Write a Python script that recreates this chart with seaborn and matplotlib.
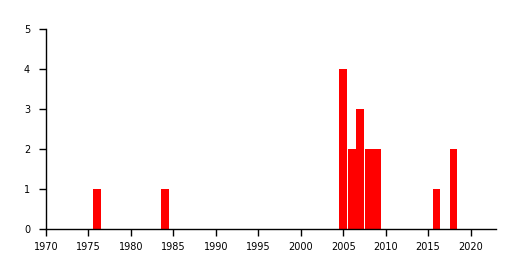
import matplotlib
matplotlib.use("Agg")
import matplotlib.pyplot as plt
import seaborn as sns
import pandas as pd

years = [1976, 1984, 2005, 2006, 2007, 2008, 2009, 2016, 2018]
counts = [1, 1, 4, 2, 3, 2, 2, 1, 2]
xticks = [1970, 1975, 1980, 1985, 1990, 1995, 2000, 2005, 2010, 2015, 2020]
yticks = [0, 1, 2, 3, 4, 5]

sns.set_style("ticks")
plt.rcParams['font.family'] = ['DejaVu Sans']

df = pd.DataFrame({"year": years, "count": counts})

fig = plt.figure(figsize=(5.16, 2.70), dpi=100)
ax = fig.add_axes([46/516, 1 - 229/270, 450/516, 200/270])

sns.barplot(data=df, x="year", y="count", native_scale=True, color="#ff0000",
            saturation=1, width=0.92, ax=ax, edgecolor="none", linewidth=0)

ax.set_xlim(1970, 2023)
ax.set_ylim(0, 5)
ax.set_xticks(xticks)
ax.set_xticklabels([str(t) for t in xticks])
ax.set_yticks(yticks)
ax.set_yticklabels([str(t) for t in yticks])
ax.set_xlabel("")
ax.set_ylabel("")

for s in ["top", "right"]:
    ax.spines[s].set_visible(False)
for s in ["left", "bottom"]:
    ax.spines[s].set_color("black")
    ax.spines[s].set_linewidth(1.0)

ax.tick_params(axis="both", direction="out", length=5, width=1.0, colors="black", labelsize=7)
ax.tick_params(axis="y", pad=6.5)
ax.tick_params(axis="x", pad=4.5)

fig.savefig("out.png", dpi=100, facecolor="white")
